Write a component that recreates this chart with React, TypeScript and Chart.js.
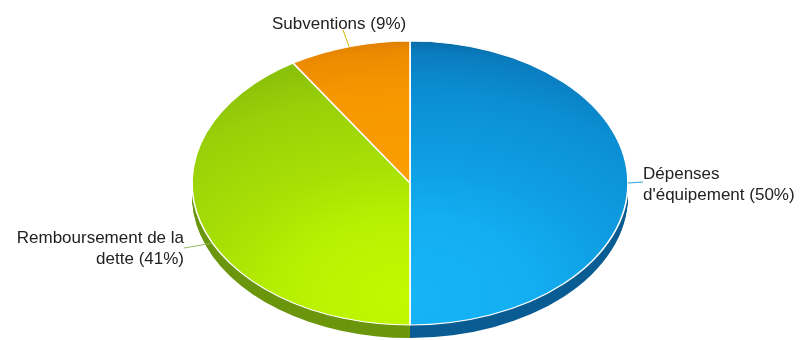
import React, { useEffect, useRef } from "react";
import { Chart, registerables } from "chart.js";

Chart.register(...registerables);

// ---- data ----
const categories = ["Dépenses d'équipement", "Remboursement de la dette", "Subventions"];
const values = [50, 41, 9];
const labelLines = [
  ["Dépenses", "d'équipement (50%)"],
  ["Remboursement de la", "dette (41%)"],
  ["Subventions (9%)"],
];

// ---- styles (gradient stops: light -> dark) ----
const gradStops = [0, 0.3, 0.5, 0.78, 0.93, 1];
const topColors = [
  ["#16b5f7", "#13aef2", "#0f9fe3", "#0b8ed3", "#0a7cbe", "#06609a"],
  ["#c2fa00", "#b8f002", "#a8e005", "#98cf08", "#88bf0a", "#74a80a"],
  ["#ffa800", "#ffa500", "#f99d00", "#f69700", "#ec8b00", "#d87800"],
];
const sideColors = ["#0a5d93", "#6b960d", "#b86200"];
const leaderColors = ["#2aa3d6", "#98b860", "#d6b400"];

// ---- layout ----
const EX = 410;
const EY = 183;
const RX = 218;
const RY = 142;
const DEPTH = 13;
const labelLayout = [
  { x: 643, baselines: [179, 200], align: "left", frac: 0.5, end: [643, 182] },
  { x: 184, baselines: [243, 264], align: "right", frac: 0.44, end: [184, 248] },
  { x: 272, baselines: [29], align: "left", frac: 0.5, end: [343, 30] },
];

function topFill(c: any) {
  const chart = c.chart;
  const area = chart.chartArea;
  const i = c.dataIndex ?? 0;
  if (!area) return topColors[i][0];
  const cx = (area.left + area.right) / 2;
  const cy = (area.top + area.bottom) / 2;
  const r = Math.min(area.right - area.left, area.bottom - area.top) / 2;
  const g = chart.ctx.createRadialGradient(cx, cy + 0.8 * r, 0, cx, cy + 0.8 * r, 1.85 * r);
  gradStops.forEach((s, k) => g.addColorStop(s, topColors[i][k]));
  return g;
}

function applyTransform(ctx: CanvasRenderingContext2D, el: any, dy: number) {
  const r = el.outerRadius;
  ctx.translate(EX, EY + dy);
  ctx.scale(RX / r, RY / r);
  ctx.translate(-el.x, -el.y);
}

const pie3d = {
  id: "pie3d",
  beforeDatasetsDraw(chart: any) {
    const ctx = chart.ctx as CanvasRenderingContext2D;
    const meta = chart.getDatasetMeta(0);
    const els = meta.data;
    if (!els.length) return;
    const ref = els[0];
    for (let d = DEPTH; d >= 1; d--) {
      ctx.save();
      applyTransform(ctx, ref, d);
      els.forEach((el: any, i: number) => {
        const p = Object.create(el);
        p.options = { ...el.options, backgroundColor: sideColors[i], borderWidth: 0 };
        p.draw(ctx);
      });
      ctx.restore();
    }
    ctx.save();
    applyTransform(ctx, ref, 0);
  },
  afterDatasetsDraw(chart: any) {
    const ctx = chart.ctx as CanvasRenderingContext2D;
    ctx.restore();
    const meta = chart.getDatasetMeta(0);
    meta.data.forEach((el: any, i: number) => {
      const L = labelLayout[i];
      const a = el.startAngle + L.frac * (el.endAngle - el.startAngle);
      const sx = EX + RX * Math.cos(a);
      const sy = EY + RY * Math.sin(a);
      ctx.save();
      ctx.strokeStyle = leaderColors[i];
      ctx.lineWidth = 1;
      ctx.beginPath();
      ctx.moveTo(sx, sy);
      ctx.lineTo(L.end[0], L.end[1]);
      ctx.stroke();
      ctx.fillStyle = "#222222";
      ctx.font = '17px "Liberation Sans", Arial, sans-serif';
      ctx.textAlign = L.align as CanvasTextAlign;
      ctx.textBaseline = "alphabetic";
      labelLines[i].forEach((line, k) => ctx.fillText(line, L.x, L.baselines[k]));
      ctx.restore();
    });
  },
};

export default function App() {
  const ref = useRef<HTMLCanvasElement | null>(null);
  useEffect(() => {
    document.body.style.margin = "0";
    const canvas = ref.current;
    if (!canvas) return;
    const chart = new Chart(canvas, {
      type: "pie",
      data: {
        labels: categories,
        datasets: [
          {
            data: values,
            backgroundColor: topFill as any,
            borderColor: "#ffffff",
            borderWidth: 1.2,
            clip: false as any,
            hoverOffset: 0,
          },
        ],
      },
      options: {
        responsive: false,
        animation: false,
        events: [],
        layout: { padding: 10 },
        plugins: { legend: { display: false }, tooltip: { enabled: false } },
      },
      plugins: [pie3d],
    });
    return () => chart.destroy();
  }, []);
  return (
    <div style={{ width: 803, height: 340, background: "#ffffff" }}>
      <canvas ref={ref} width={803} height={340} />
    </div>
  );
}
